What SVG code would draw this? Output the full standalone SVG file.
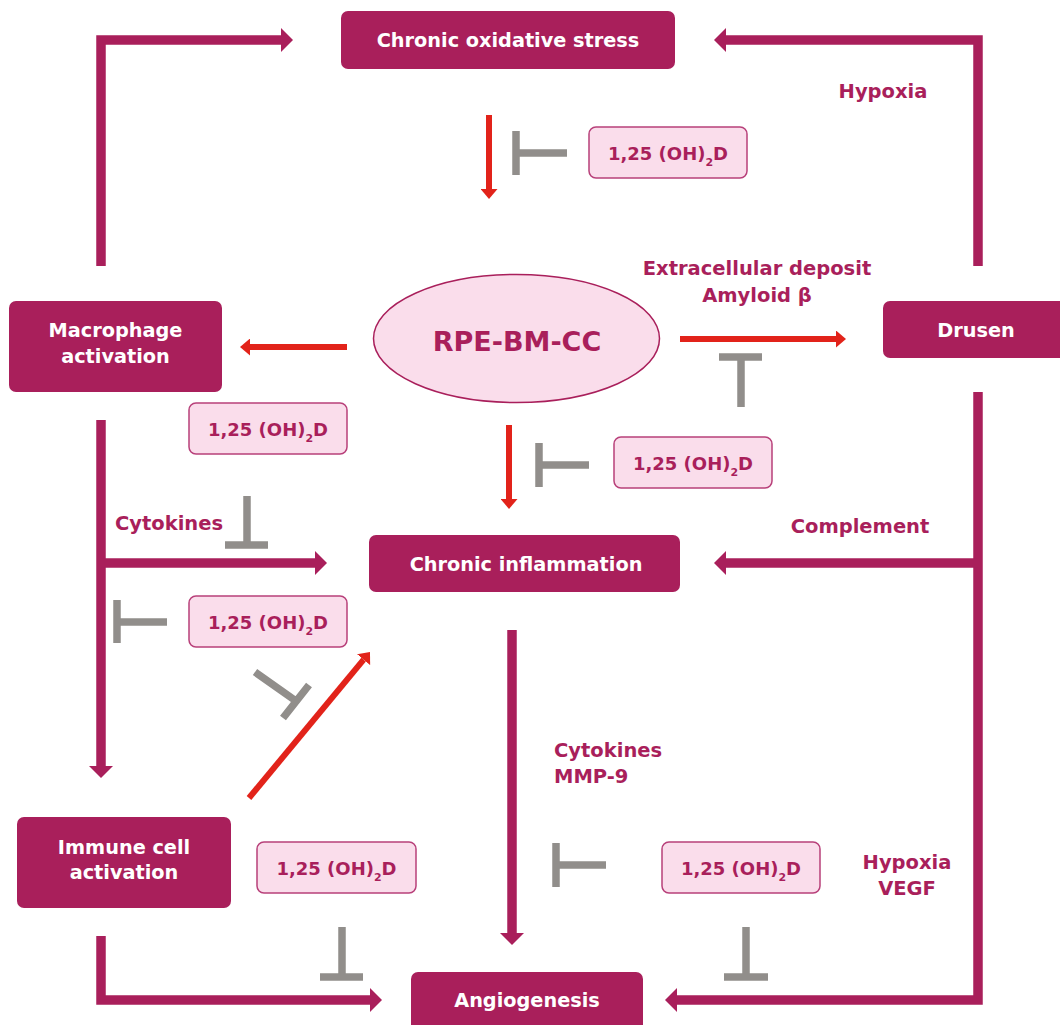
<svg xmlns="http://www.w3.org/2000/svg" width="1060" height="1025" viewBox="0 0 1060 1025">
<style>
.node{fill:#A91F5B}
.nt{font-family:"DejaVu Sans",sans-serif;font-weight:bold;font-size:19.3px;fill:#FFFFFF;text-anchor:middle}
.lbl{font-family:"DejaVu Sans",sans-serif;font-weight:bold;font-size:19.5px;fill:#A91F5B}
.vd{fill:#FADDEB;stroke:#B8407A;stroke-width:1.5}
.vt{font-family:"DejaVu Sans",sans-serif;font-weight:bold;font-size:18px;fill:#A91F5B;text-anchor:middle}
.mg{fill:none;stroke:#A91F5B;stroke-width:9.5;stroke-linejoin:miter;stroke-linecap:butt}
.rd{fill:none;stroke:#E2231A;stroke-width:6;stroke-linecap:butt}
.gy{fill:none;stroke:#918E8B;stroke-width:7.5;stroke-linecap:butt}
</style>
<defs>
<marker id="mh" markerUnits="userSpaceOnUse" viewBox="0 0 12 24" markerWidth="12" markerHeight="24" refX="0" refY="12" orient="auto">
<path d="M0,0 L12,12 L0,24 z" fill="#A91F5B"/>
</marker>
<marker id="rh" markerUnits="userSpaceOnUse" viewBox="0 0 10 17" markerWidth="10" markerHeight="17" refX="0" refY="8.5" orient="auto">
<path d="M0,0 L10,8.5 L0,17 z" fill="#E2231A"/>
</marker>
</defs>
<rect width="1060" height="1025" fill="#FFFFFF"/>

<g id="connectors">
<path class="mg" d="M101,266 V40 H281" marker-end="url(#mh)"/>
<path class="mg" d="M978,266 V40 H726" marker-end="url(#mh)"/>
<path class="mg" d="M978,392 V1000 H677" marker-end="url(#mh)"/>
<path class="mg" d="M978,563 H726" marker-end="url(#mh)"/>
<path class="mg" d="M101,420 V766" marker-end="url(#mh)"/>
<path class="mg" d="M101,563 H315" marker-end="url(#mh)"/>
<path class="mg" d="M101,936 V1000 H370" marker-end="url(#mh)"/>
<path class="mg" d="M512,630 V933" marker-end="url(#mh)"/>
<path class="rd" d="M489,115 V189" marker-end="url(#rh)"/>
<path class="rd" d="M347,347 H250" marker-end="url(#rh)"/>
<path class="rd" d="M680,339 H836" marker-end="url(#rh)"/>
<path class="rd" d="M509,425 V499" marker-end="url(#rh)"/>
<path class="rd" d="M249,798 L363.6,659.7" marker-end="url(#rh)"/>
<path class="gy" d="M567,153 H516 M516,131 V175"/>
<path class="gy" d="M741,407 V357 M719,357 H762"/>
<path class="gy" d="M589,465 H539 M539,443 V487"/>
<path class="gy" d="M247,496 V545 M225,545 H268"/>
<path class="gy" d="M167,622 H117 M117,600 V643"/>
<path class="gy" d="M255,672 L296,701 M283,718 L309,685"/>
<path class="gy" d="M342,927 V977 M320,977 H363"/>
<path class="gy" d="M606,865 H556 M556,843 V887"/>
<path class="gy" d="M746,927 V977 M724,977 H768"/>
</g>

<g id="labels">
<text class="lbl" x="883" y="98" text-anchor="middle">Hypoxia</text>
<text class="lbl" x="757" y="275" text-anchor="middle">Extracellular deposit</text>
<text class="lbl" x="757" y="302" text-anchor="middle">Amyloid β</text>
<text class="lbl" x="169" y="530" text-anchor="middle">Cytokines</text>
<text class="lbl" x="860" y="533" text-anchor="middle">Complement</text>
<text class="lbl" x="554" y="757">Cytokines</text>
<text class="lbl" x="554" y="783">MMP-9</text>
<text class="lbl" x="907" y="869" text-anchor="middle">Hypoxia</text>
<text class="lbl" x="907" y="895" text-anchor="middle">VEGF</text>
</g>

<g id="n-oxidative">
<rect class="node" x="341" y="11" width="334" height="58" rx="7"/>
<text class="nt" x="508" y="47">Chronic oxidative stress</text>
</g>
<g id="n-macrophage">
<rect class="node" x="9" y="301" width="213" height="91" rx="7"/>
<text class="nt" x="115.5" y="337">Macrophage</text>
<text class="nt" x="115.5" y="363">activation</text>
</g>
<g id="n-drusen">
<rect class="node" x="883" y="301" width="190" height="57" rx="7"/>
<text class="nt" x="976" y="337">Drusen</text>
</g>
<g id="n-rpe">
<ellipse cx="516.5" cy="338.5" rx="143" ry="64" fill="#FADDEB" stroke="#A91F5B" stroke-width="1.5"/>
<text x="517" y="351" font-family="DejaVu Sans, sans-serif" font-weight="bold" font-size="27" fill="#A91F5B" text-anchor="middle">RPE-BM-CC</text>
</g>
<g id="n-inflammation">
<rect class="node" x="369" y="535" width="311" height="57" rx="7"/>
<text class="nt" x="526" y="571">Chronic inflammation</text>
</g>
<g id="n-immune">
<rect class="node" x="17" y="817" width="214" height="91" rx="7"/>
<text class="nt" x="124" y="854">Immune cell</text>
<text class="nt" x="124" y="879">activation</text>
</g>
<g id="n-angiogenesis">
<rect class="node" x="411" y="972" width="232" height="70" rx="7"/>
<text class="nt" x="527" y="1007">Angiogenesis</text>
</g>

<g id="vd1">
<rect class="vd" x="589" y="127" width="158" height="51" rx="7"/>
<text class="vt" x="668" y="160">1,25 (OH)<tspan font-size="11" dy="6">2</tspan><tspan dy="-6">D</tspan></text>
</g>
<g id="vd2">
<rect class="vd" x="189" y="403" width="158" height="51" rx="7"/>
<text class="vt" x="268" y="436">1,25 (OH)<tspan font-size="11" dy="6">2</tspan><tspan dy="-6">D</tspan></text>
</g>
<g id="vd3">
<rect class="vd" x="614" y="437" width="158" height="51" rx="7"/>
<text class="vt" x="693" y="470">1,25 (OH)<tspan font-size="11" dy="6">2</tspan><tspan dy="-6">D</tspan></text>
</g>
<g id="vd4">
<rect class="vd" x="189" y="596" width="158" height="51" rx="7"/>
<text class="vt" x="268" y="629">1,25 (OH)<tspan font-size="11" dy="6">2</tspan><tspan dy="-6">D</tspan></text>
</g>
<g id="vd5">
<rect class="vd" x="257" y="842" width="159" height="51" rx="7"/>
<text class="vt" x="336.5" y="875">1,25 (OH)<tspan font-size="11" dy="6">2</tspan><tspan dy="-6">D</tspan></text>
</g>
<g id="vd6">
<rect class="vd" x="662" y="842" width="158" height="51" rx="7"/>
<text class="vt" x="741" y="875">1,25 (OH)<tspan font-size="11" dy="6">2</tspan><tspan dy="-6">D</tspan></text>
</g>
</svg>
